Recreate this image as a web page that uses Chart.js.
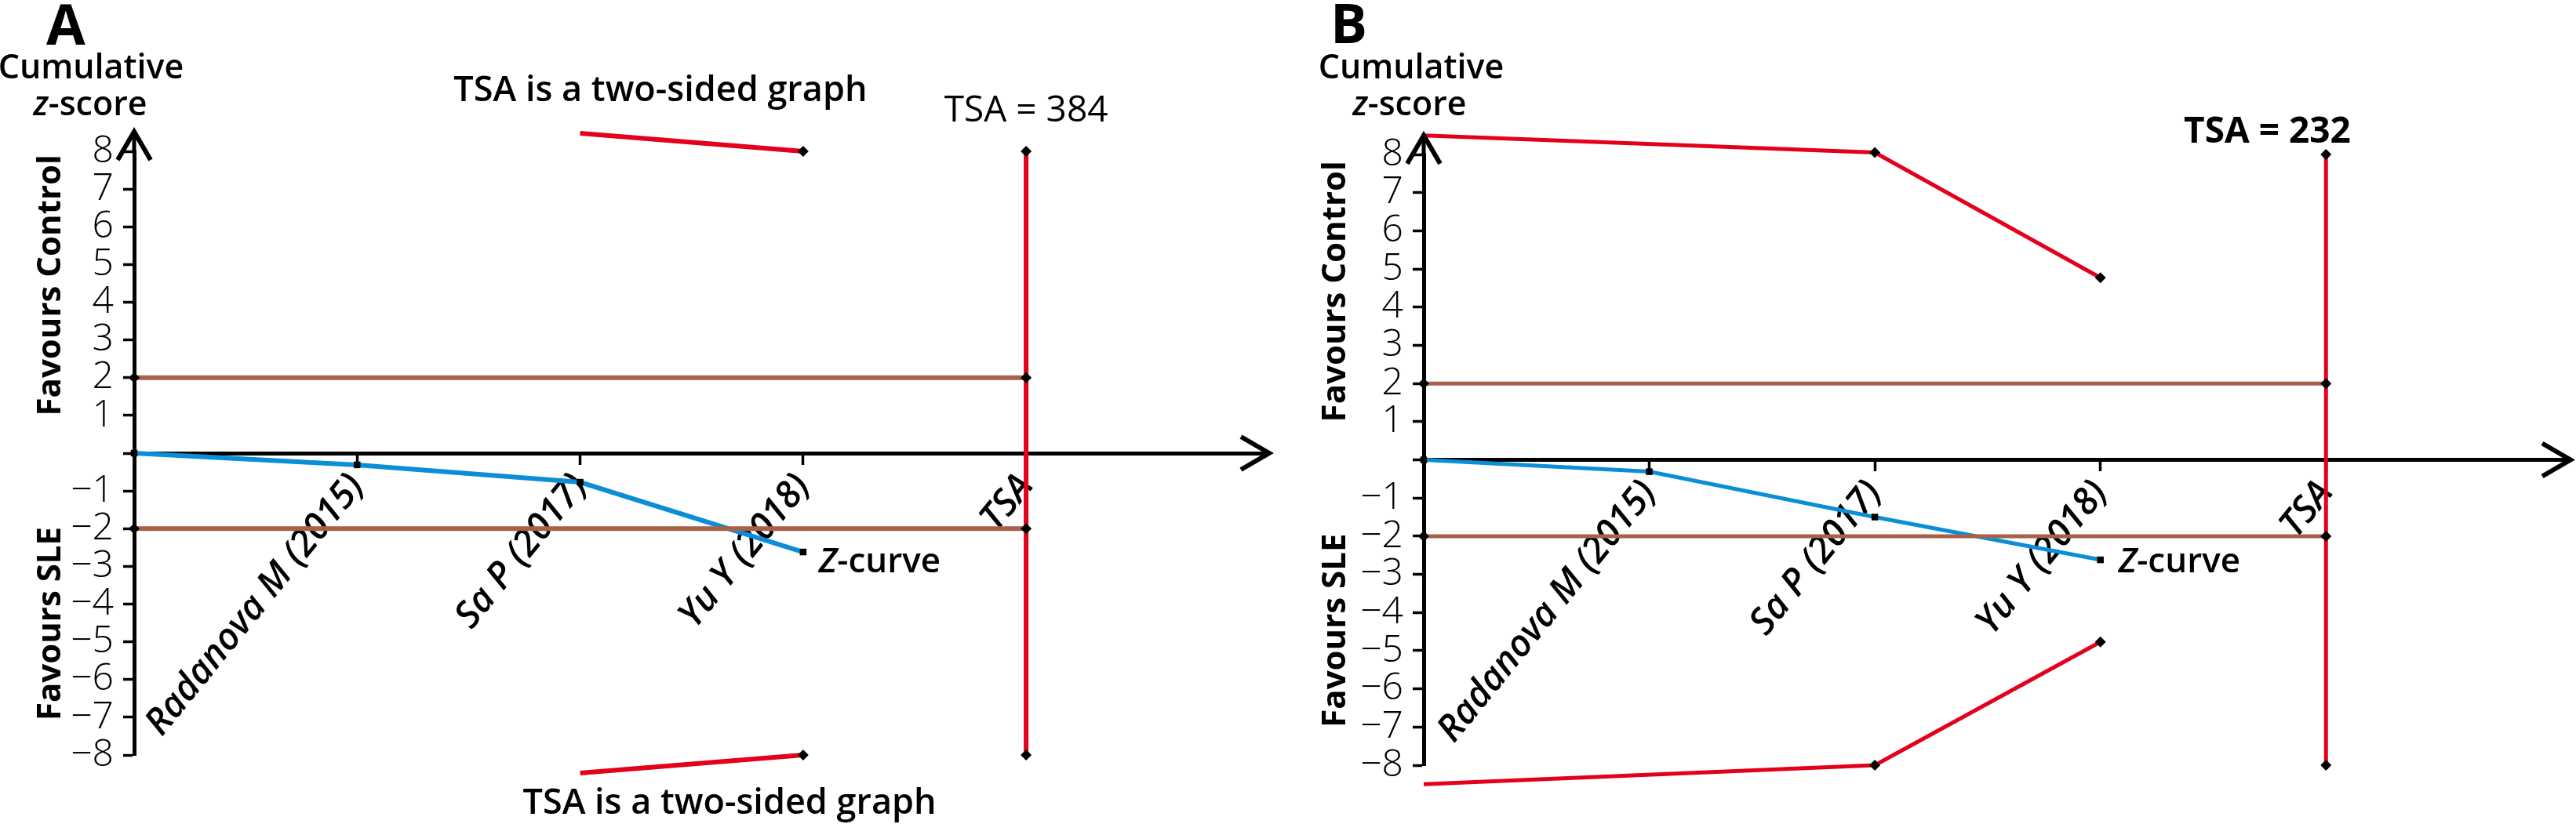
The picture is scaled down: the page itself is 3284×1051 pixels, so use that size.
<!DOCTYPE html>
<html>
<head>
<meta charset="utf-8">
<script src="https://cdn.jsdelivr.net/npm/chart.js@4.4.1/dist/chart.umd.min.js"></script>
<style>
  html, body { margin: 0; padding: 0; background: #fff; overflow: hidden; }
  #wrap { position: relative; width: 3284px; height: 1051px; }
  canvas { position: absolute; top: 0; }
</style>
</head>
<body>
<div id="wrap">
  <canvas id="chartA" width="1642" height="1051" style="left:0px;width:1642px;height:1051px"></canvas>
  <canvas id="chartB" width="1642" height="1051" style="left:1642px;width:1642px;height:1051px"></canvas>
</div>
<script>
// ---------- data ----------
const studyLabels = ["Radanova M (2015)", "Sa P (2017)", "Yu Y (2018)", "TSA"];
const studyPos = [1, 2, 3, 4];            // positions on the information axis
const zCurvePos = [0, 1, 2, 3];
const conventionalBound = [2, -2];        // brown horizontal lines
const tsaLineY = [8, -8];                 // vertical TSA line end values

// Panel A
const tsaA = 384;
const zCurveA = [0, -0.31, -0.77, -2.62];
const boundPosA = [2, 3];
const upperA = [8.48, 8.0];
const lowerA = [-8.48, -8.0];

// Panel B
const tsaB = 232;
const zCurveB = [0, -0.31, -1.5, -2.62];
const boundPosB = [0, 2, 3];
const upperB = [8.5, 8.05, 4.77];
const lowerB = [-8.5, -8.0, -4.77];

// ---------- styles ----------
const RED = '#e3001b', BLUE = '#0a8ed8', BROWN = '#a8604a';
const FAM = '"Open Sans", "Noto Sans", sans-serif';

function pts(xs, ys) { return xs.map((x, i) => ({ x: x, y: ys[i] })); }

function drawParts(ctx, parts, x, y, align, size, weight) {
  const fonts = parts.map(p => (p[1] ? 'italic ' : '') + weight + ' ' + size + 'px ' + FAM);
  let total = 0;
  const widths = parts.map((p, i) => { ctx.font = fonts[i]; const w = ctx.measureText(p[0]).width; total += w; return w; });
  let cx = align === 'center' ? x - total / 2 : (align === 'right' ? x - total : x);
  ctx.textAlign = 'left';
  parts.forEach((p, i) => { ctx.font = fonts[i]; ctx.fillText(p[0], cx, y); cx += widths[i]; });
}

const overlay = {
  id: 'overlay',
  afterDraw(chart) {
    const o = chart.options.plugins.overlay;
    const ctx = chart.ctx;
    const xs = chart.scales.x, ys = chart.scales.y;
    const ca = chart.chartArea;
    ctx.save();
    ctx.fillStyle = '#000';
    ctx.strokeStyle = '#000';
    ctx.lineCap = 'butt';
    ctx.lineJoin = 'miter';
    // y arrow
    const ax = ca.left, tipY = ys.getPixelForValue(o.arrowTop);
    ctx.lineWidth = 5;
    ctx.beginPath(); ctx.moveTo(ax, ys.getPixelForValue(8)); ctx.lineTo(ax, tipY + 2); ctx.stroke();
    ctx.lineWidth = 6;
    ctx.beginPath(); ctx.moveTo(ax - 21, tipY + 36); ctx.lineTo(ax, tipY); ctx.lineTo(ax + 21, tipY + 36); ctx.stroke();
    // x arrow
    const y0 = ys.getPixelForValue(0), tipX = ca.right;
    ctx.beginPath(); ctx.moveTo(tipX - 36, y0 - 21); ctx.lineTo(tipX, y0); ctx.lineTo(tipX - 36, y0 + 21); ctx.stroke();

    ctx.textBaseline = 'alphabetic';
    ctx.font = 'bold ' + o.letter.size + 'px ' + FAM;
    ctx.textAlign = 'left';
    ctx.fillText(o.letter.text, o.letter.x, o.letter.y);
    drawParts(ctx, [['Cumulative', false]], o.cum.x1, o.cum.y1, 'center', 43, '600');
    drawParts(ctx, [['z', true], ['-score', false]], o.cum.x2, o.cum.y2, 'center', 43, '600');
    ctx.font = 'bold 42px ' + FAM;
    ctx.textAlign = 'center';
    [[o.fav.top, 'Favours Control'], [o.fav.bottom, 'Favours SLE']].forEach(f => {
      ctx.save();
      ctx.translate(o.fav.x, ys.getPixelForValue(f[0]));
      ctx.rotate(-Math.PI / 2);
      ctx.fillText(f[1], 0, 0);
      ctx.restore();
    });
    drawParts(ctx, [['TSA = ' + o.tsa.n, false]], xs.getPixelForValue(o.tsa.x), ys.getPixelForValue(o.tsa.y), 'center', 46, o.tsa.weight);
    (o.notes || []).forEach(n => {
      drawParts(ctx, [['TSA is a two-sided graph', false]], xs.getPixelForValue(n.x), n.y, 'center', 45, '600');
    });
    ctx.textBaseline = 'middle';
    drawParts(ctx, [['Z', true], ['-curve', false]], xs.getPixelForValue(o.zlab.x), ys.getPixelForValue(o.zlab.y), 'left', 44, '600');
    ctx.restore();
  }
};

function lineDs(data, color, width, style, radius) {
  return {
    data: data, borderColor: color, borderWidth: width, tension: 0, fill: false, clip: false,
    pointStyle: style, pointRadius: radius, pointBackgroundColor: '#000', pointBorderColor: '#000',
    pointBorderWidth: 0, pointHoverRadius: radius
  };
}

function makePanel(id, p) {
  const datasets = [
    lineDs(pts([0, 4], [conventionalBound[0], conventionalBound[0]]), BROWN, p.brownW, 'rectRot', 7),
    lineDs(pts([0, 4], [conventionalBound[1], conventionalBound[1]]), BROWN, p.brownW, 'rectRot', 7),
    lineDs(pts([4, 4], tsaLineY), RED, p.redW, 'rectRot', 7),
    lineDs(pts(p.boundPos, p.upper), RED, p.redW, 'rectRot', 7),
    lineDs(pts(p.boundPos, p.lower), RED, p.redW, 'rectRot', 7),
    lineDs(pts(zCurvePos, p.z), BLUE, p.blueW, 'rect', 6)
  ];
  return new Chart(document.getElementById(id), {
    type: 'line',
    data: { datasets: datasets },
    plugins: [overlay],
    options: {
      responsive: false, animation: false, devicePixelRatio: 1,
      events: [],
      layout: { padding: { left: 0, right: p.padR, top: p.padT, bottom: p.padB } },
      plugins: { legend: { display: false }, tooltip: { enabled: false }, overlay: p.overlay },
      scales: {
        x: {
          type: 'linear', position: { y: 0 }, min: 0, max: p.xMax,
          afterFit: s => { s.height = 0; },
          afterBuildTicks: s => { s.ticks = studyPos.map(v => ({ value: v })); },
          ticks: {
            autoSkip: false, minRotation: 51, maxRotation: 51, padding: 4, color: '#000',
            font: { family: FAM, size: 47, style: 'italic', weight: '600' },
            callback: v => studyLabels[studyPos.indexOf(v)]
          },
          grid: { display: true, drawOnChartArea: false, drawTicks: true, tickLength: 12, tickWidth: 3.5, tickColor: '#000' },
          border: { display: true, color: '#000', width: 5 }
        },
        y: {
          min: -8, max: 8,
          afterFit: s => { s.width = p.axisX; },
          ticks: {
            stepSize: 1, autoSkip: false, color: '#000', padding: 12,
            font: { family: FAM, size: 48, weight: '300' },
            callback: v => v === 0 ? '' : (v < 0 ? '\u2212' + (-v) : '' + v)
          },
          grid: { display: true, drawOnChartArea: false, tickLength: 14, tickWidth: 3.5, tickColor: '#000' },
          border: { display: true, color: '#000', width: 5 }
        }
      }
    }
  });
}

makePanel('chartA', {
  z: zCurveA, boundPos: boundPosA, upper: upperA, lower: lowerA,
  axisX: 171, padR: 24, padT: 193, padB: 88, xMax: 5.09,
  redW: 6, blueW: 6, brownW: 6,
  overlay: {
    arrowTop: 8.52,
    letter: { text: 'A', x: 59, y: 57, size: 72 },
    cum: { x1: 116, y1: 100, x2: 115, y2: 147 },
    fav: { x: 77, top: 4.45, bottom: -4.52 },
    tsa: { n: tsaA, x: 4, y: 8.8, weight: '400' },
    notes: [{ x: 2.36, y: 129 }, { x: 2.67, y: 1038 }],
    zlab: { x: 3.07, y: -2.9 }
  }
});

makePanel('chartB', {
  z: zCurveB, boundPos: boundPosB, upper: upperB, lower: lowerB,
  axisX: 173, padR: 6, padT: 197, padB: 75, xMax: 5.084,
  redW: 5, blueW: 5, brownW: 5,
  overlay: {
    arrowTop: 8.5,
    letter: { text: 'B', x: 54, y: 55, size: 70 },
    cum: { x1: 157, y1: 100, x2: 155, y2: 147 },
    fav: { x: 73, top: 4.41, bottom: -4.47 },
    tsa: { n: tsaB, x: 3.74, y: 8.3, weight: 'bold' },
    notes: [],
    zlab: { x: 3.08, y: -2.68 }
  }
});
</script>
</body>
</html>
